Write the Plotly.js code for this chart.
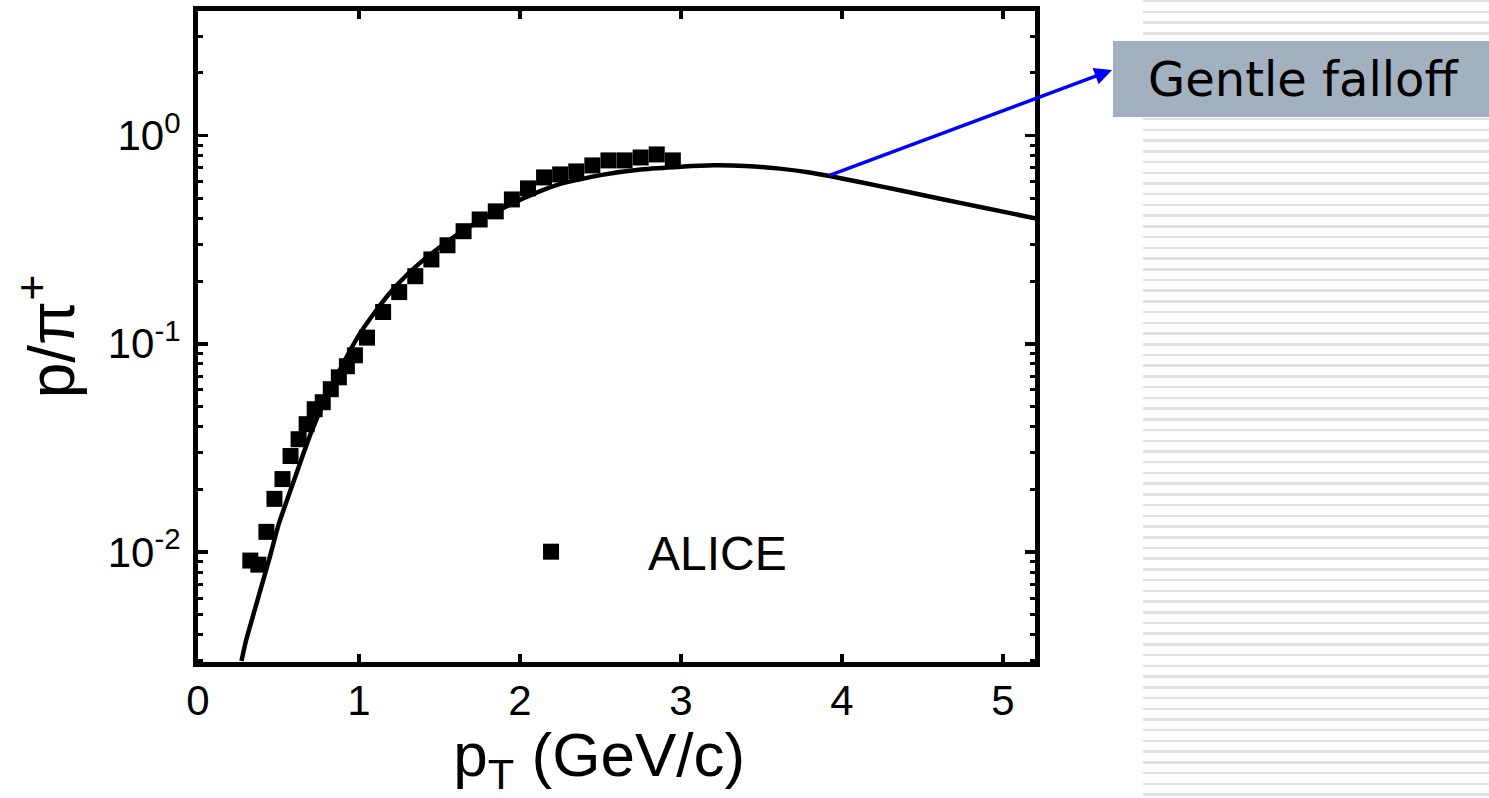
<!DOCTYPE html>
<html><head><meta charset="utf-8">
<script src="https://cdn.plot.ly/plotly-3.0.1.min.js"></script>
<style>
html,body{margin:0;padding:0;background:#fff;width:1489px;height:798px;overflow:hidden}
#stripes{position:absolute;left:1143px;top:0;width:346px;height:798px;background:repeating-linear-gradient(to bottom,#e1e1e1 0px,#e1e1e1 2.5px,#ffffff 2.5px,#ffffff 10.72px);}
#chart{position:absolute;left:0;top:0;width:1489px;height:798px}
</style></head>
<body><div id="stripes"></div><div id="chart"></div>
<script>
// ALICE p/pi+ data points
const alicePt = [0.325,0.375,0.425,0.475,0.525,0.575,0.625,0.675,0.725,0.775,0.825,0.875,0.925,0.975,1.05,1.15,1.25,1.35,1.45,1.55,1.65,1.75,1.85,1.95,2.05,2.15,2.25,2.35,2.45,2.55,2.65,2.75,2.85,2.95];
const aliceRatio = [0.0091,0.0087,0.0125,0.0180,0.0224,0.0289,0.0348,0.0411,0.0485,0.0524,0.0605,0.069,0.078,0.088,0.107,0.142,0.177,0.211,0.254,0.297,0.347,0.395,0.432,0.493,0.557,0.629,0.650,0.672,0.718,0.759,0.759,0.784,0.811,0.759];
// model curve
const modelPt = [0.27,0.30,0.35,0.40,0.45,0.50,0.55,0.60,0.65,0.70,0.75,0.80,0.90,1.00,1.10,1.20,1.30,1.40,1.50,1.60,1.70,1.80,1.90,2.00,2.10,2.25,2.50,2.75,3.00,3.20,3.40,3.60,3.80,4.00,4.25,4.50,4.75,5.00,5.20];
const modelRatio = [0.0030,0.0038,0.0052,0.0071,0.0097,0.0135,0.0175,0.0225,0.029,0.037,0.046,0.056,0.080,0.110,0.142,0.178,0.215,0.252,0.290,0.330,0.370,0.410,0.450,0.490,0.530,0.585,0.645,0.686,0.708,0.719,0.714,0.695,0.664,0.622,0.568,0.518,0.472,0.431,0.400];
// axis ticks
const xTickVals = [0,1,2,3,4,5];
const yTickVals = [0.01,0.1,1];
const yTickText = ['10<sup>-2</sup>','10<sup>-1</sup>','10<sup>0</sup>'];
const seriesName = 'ALICE';
const calloutText = 'Gentle falloff';

const F = 'Arial, "Liberation Sans", sans-serif';
const traces = [
  {x: modelPt, y: modelRatio, type:'scatter', mode:'lines', line:{color:'#000', width:4.5, shape:'spline', smoothing:0.5}, showlegend:false, hoverinfo:'skip'},
  {x: alicePt, y: aliceRatio, type:'scatter', mode:'markers', name: seriesName, marker:{symbol:'square', size:16, color:'#000'}}
];
const axisCommon = {showline:true, linecolor:'#000', linewidth:5, mirror:'ticks', ticks:'inside', tickcolor:'#000', showgrid:false, zeroline:false, tickfont:{family:F, size:42, color:'#000'}};
const layout = {
  width:1489, height:798,
  margin:{l:198, r:454, t:11, b:136},
  paper_bgcolor:'rgba(0,0,0,0)', plot_bgcolor:'#fff',
  showlegend:true,
  legend:{x:0.3059, y:0.169, xanchor:'left', yanchor:'middle', bgcolor:'rgba(0,0,0,0)', itemwidth:184, font:{family:F, size:48, color:'#000'}},
  xaxis: Object.assign({}, axisCommon, {range:[0,5.2], tickvals:xTickVals, ticklen:8, tickwidth:3.5, ticklabelstandoff:-2,
    title:{text:'p<sub>T</sub> (GeV/c)&nbsp;&nbsp;', font:{family:F, size:62, color:'#000'}, standoff:15}}),
  yaxis: Object.assign({}, axisCommon, {type:'log', range:[-2.528,0.5976], tickvals:yTickVals, ticktext:yTickText, ticklen:10, tickwidth:3.5, ticklabelstandoff:4,
    minor:{ticks:'inside', ticklen:5, tickwidth:3, tickcolor:'#000', dtick:'D1', showgrid:false},
    title:{text:'p/π<sup>+</sup>', font:{family:F, size:64, color:'#000'}, standoff:14}}),
  shapes:[
    {type:'rect', xref:'paper', yref:'paper', x0:1.0932, x1:1.6, y0:0.8372, y1:0.9539, fillcolor:'#a2b0bf', line:{width:0}}
  ],
  annotations:[
    {xref:'paper', yref:'paper', x:1.3202, y:0.8955, xanchor:'center', yanchor:'middle', text:calloutText, showarrow:false, font:{family:'"DejaVu Sans", Verdana, sans-serif', size:48, color:'#000'}},
    {xref:'paper', yref:'paper', x:1.0920, y:0.9094, text:'', showarrow:true, ax:-284, ay:106, arrowcolor:'#0000ff', arrowwidth:3.5, arrowhead:2, arrowsize:1, standoff:0, startstandoff:0}
  ]
};
Plotly.newPlot('chart', traces, layout, {displayModeBar:false, staticPlot:true});
</script>
</body></html>
